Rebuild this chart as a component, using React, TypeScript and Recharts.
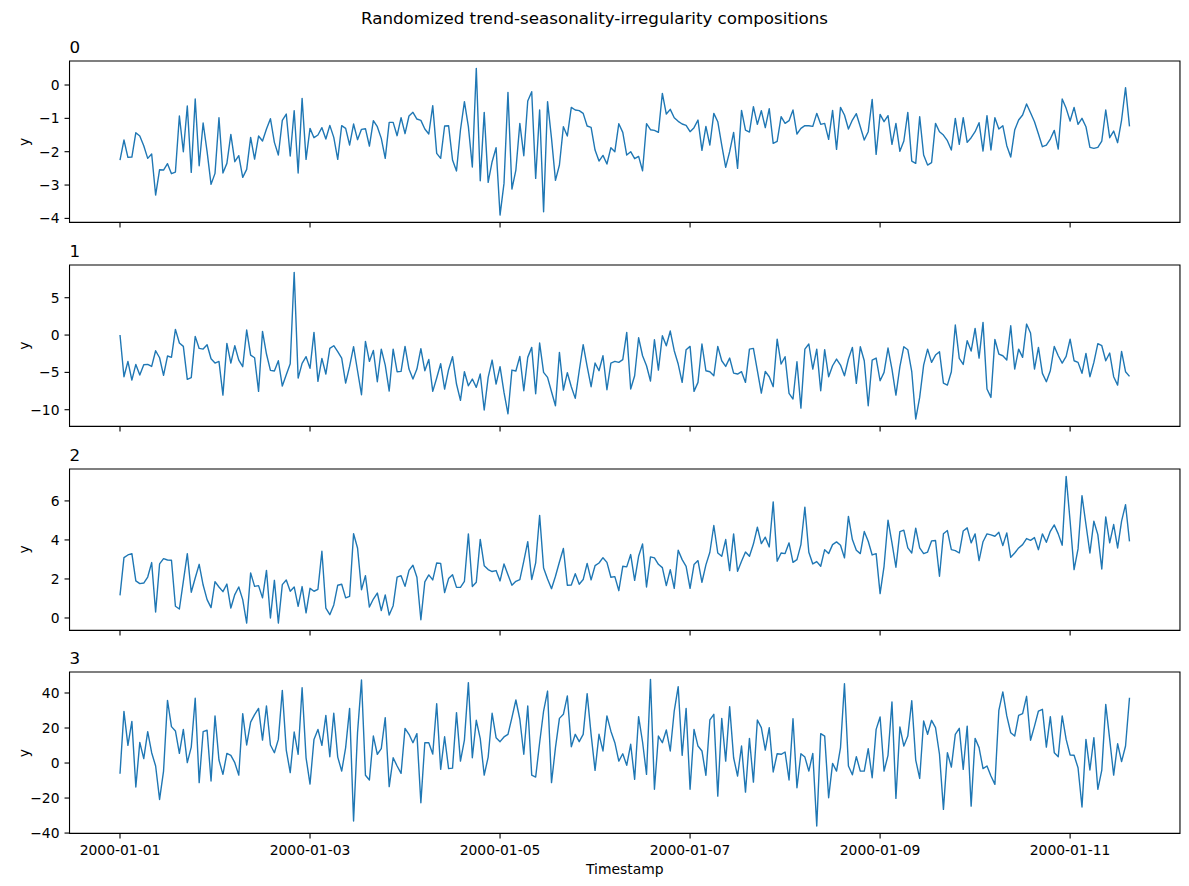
import { LineChart, Line, XAxis, YAxis, ReferenceArea } from "recharts";

// hourly values, 256 points per panel
const series0 = [
  -2.25, -1.65, -2.17, -2.16, -1.43, -1.53, -1.82, -2.2, -2.07, -3.3,
  -2.54, -2.55, -2.36, -2.66, -2.61, -0.93, -2.0, -0.63, -2.62, -0.42,
  -2.42, -1.14, -2.0, -2.98, -2.65, -0.98, -2.64, -2.35, -1.48, -2.3,
  -2.12, -2.77, -2.53, -1.57, -2.22, -1.53, -1.68, -1.32, -1.01, -1.72,
  -2.1, -1.06, -0.87, -2.13, -0.77, -2.64, -0.4, -2.23, -1.3, -1.58,
  -1.5, -1.28, -1.62, -1.21, -1.57, -2.23, -1.22, -1.3, -1.8, -1.17,
  -1.64, -1.33, -1.31, -1.83, -1.07, -1.25, -1.6, -2.2, -1.12, -1.12,
  -1.52, -0.98, -1.46, -0.93, -0.82, -1.02, -1.06, -1.32, -1.47, -0.62,
  -2.05, -2.2, -1.23, -1.22, -2.25, -2.58, -1.35, -0.5, -1.25, -2.46,
  0.5, -2.87, -0.82, -2.92, -2.3, -1.88, -3.9, -2.95, -0.22, -3.12,
  -2.55, -1.15, -2.12, -0.48, -0.2, -2.8, -0.75, -3.8, -0.5, -1.6,
  -2.86, -2.4, -1.25, -1.53, -0.67, -0.75, -0.77, -0.85, -1.23, -1.27,
  -1.95, -2.28, -2.11, -2.37, -1.88, -2.0, -1.16, -1.42, -2.1, -2.0,
  -2.21, -2.14, -2.57, -1.16, -1.34, -1.36, -1.42, -0.25, -0.87, -0.73,
  -0.98, -1.09, -1.17, -1.21, -1.4, -1.28, -1.05, -1.96, -1.24, -1.8,
  -0.85, -1.1, -1.8, -2.47, -2.0, -1.42, -2.5, -0.76, -1.35, -1.41,
  -0.65, -1.18, -0.77, -1.28, -0.71, -1.75, -1.69, -0.95, -1.15, -1.07,
  -0.75, -1.47, -1.3, -1.22, -1.22, -1.24, -0.85, -1.18, -1.15, -1.63,
  -0.76, -1.93, -0.67, -0.9, -1.32, -1.05, -0.86, -1.25, -1.65, -1.4,
  -0.43, -2.08, -0.88, -1.1, -0.92, -1.78, -1.15, -1.99, -1.68, -0.82,
  -2.28, -2.35, -0.95, -2.1, -2.4, -2.33, -1.15, -1.4, -1.5, -1.67,
  -1.95, -1.0, -1.78, -0.98, -1.72, -1.58, -1.4, -1.13, -1.98, -0.92,
  -1.95, -0.98, -1.32, -1.22, -1.82, -2.16, -1.35, -1.05, -0.9, -0.57,
  -0.83, -1.1, -1.47, -1.85, -1.8, -1.62, -1.36, -1.92, -0.42, -0.7,
  -1.08, -0.67, -1.18, -1.0, -1.25, -1.87, -1.9, -1.87, -1.68, -0.75,
  -1.58, -1.38, -1.73, -1.05, -0.08, -1.24,
];

const series1 = [
  0.0, -5.58, -3.53, -6.03, -3.93, -5.36, -3.97, -3.93, -4.2, -2.1,
  -3.04, -5.4, -2.81, -2.99, 0.76, -1.07, -1.52, -5.94, -5.71, -0.18,
  -1.79, -1.88, -1.29, -3.17, -3.75, -3.53, -8.04, -1.12, -3.75, -1.43,
  -3.35, -4.24, 0.67, -2.68, -3.04, -7.54, 0.49, -2.54, -4.73, -4.82,
  -3.44, -6.83, -5.31, -3.84, 8.4, -5.76, -3.79, -2.9, -4.46, 0.36,
  -6.2, -3.13, -5.22, -1.79, -1.43, -2.23, -3.08, -6.43, -4.2, -1.56,
  -4.78, -7.99, -0.85, -3.53, -2.05, -6.25, -1.88, -4.02, -7.5, -1.88,
  -4.91, -4.87, -1.52, -4.55, -5.89, -4.55, -1.83, -4.78, -3.26, -7.54,
  -5.76, -3.84, -7.23, -4.64, -2.9, -6.56, -8.75, -4.91, -6.79, -5.89,
  -7.01, -5.22, -10.04, -5.67, -3.35, -6.56, -4.24, -7.68, -10.54, -4.69,
  -4.82, -2.86, -7.46, -2.99, -1.65, -7.86, -1.07, -5.0, -5.67, -7.59,
  -9.46, -2.32, -7.37, -5.04, -6.92, -8.48, -4.78, -1.29, -4.2, -6.92,
  -3.75, -4.78, -2.77, -7.32, -3.75, -3.53, -3.66, -3.3, 0.36, -7.23,
  -5.45, -0.36, -2.77, -4.11, -6.16, -0.63, -4.69, -0.09, -1.43, 0.54,
  -2.1, -3.88, -6.34, -1.96, -1.52, -7.54, -6.34, -1.2, -4.78, -4.91,
  -5.45, -1.52, -3.44, -4.2, -3.08, -5.09, -5.22, -4.91, -6.34, -1.88,
  -1.79, -4.78, -7.77, -4.87, -5.58, -6.92, -0.54, -3.88, -2.9, -7.81,
  -8.57, -3.57, -9.78, -1.88, -1.2, -4.55, -1.88, -7.46, -1.96, -5.58,
  -4.11, -3.21, -4.02, -5.45, -3.21, -1.65, -6.47, -1.56, -3.44, -9.46,
  -3.35, -3.08, -6.12, -5.0, -1.74, -4.55, -8.04, -4.24, -1.56, -1.96,
  -4.91, -11.25, -8.35, -4.02, -1.88, -3.66, -2.68, -2.23, -6.43, -6.7,
  -4.91, 1.34, -3.13, -3.93, -0.76, -2.14, 0.89, -3.08, 1.7, -7.23,
  -8.35, -0.58, -2.54, -2.77, -3.35, 1.25, -4.55, -1.88, -2.99, 1.47,
  0.27, -4.55, -1.65, -5.13, -6.25, -4.78, -1.52, -2.77, -3.75, -2.86,
  -0.54, -3.44, -3.66, -5.13, -2.46, -5.58, -3.66, -1.16, -1.43, -3.44,
  -2.41, -5.58, -6.7, -2.19, -4.91, -5.54,
];

const series2 = [
  1.16, 3.09, 3.23, 3.3, 1.9, 1.76, 1.79, 2.1, 2.84, 0.31,
  2.77, 3.04, 2.97, 2.96, 0.6, 0.46, 1.88, 3.3, 1.32, 2.05,
  2.75, 1.69, 0.94, 0.53, 1.86, 1.59, 1.35, 1.74, 0.51, 1.2,
  1.59, 0.94, -0.26, 2.31, 1.62, 1.66, 1.03, 2.44, 0.0, 1.93,
  -0.26, 1.71, 1.95, 1.37, 1.59, 0.6, 1.61, 0.26, 1.52, 1.37,
  1.47, 3.42, 0.5, 0.17, 0.67, 1.68, 1.73, 1.03, 1.11, 4.32,
  3.59, 1.45, 2.17, 0.56, 0.97, 1.28, 0.38, 1.18, 0.15, 0.63,
  2.09, 2.17, 1.62, 2.44, 2.7, 2.09, -0.09, 1.85, 2.21, 1.95,
  2.82, 2.8, 1.3, 2.02, 2.22, 1.57, 1.57, 1.88, 4.31, 1.61,
  1.83, 4.03, 2.68, 2.48, 2.38, 2.43, 1.9, 2.77, 2.22, 1.68,
  1.88, 1.97, 2.91, 3.91, 1.97, 2.82, 5.26, 2.56, 2.0, 1.5,
  2.14, 2.87, 3.56, 1.68, 1.69, 2.27, 1.73, 1.97, 2.8, 1.95,
  2.68, 2.82, 3.09, 2.85, 2.09, 2.12, 1.4, 2.65, 2.62, 3.25,
  1.93, 3.16, 3.79, 1.59, 3.13, 3.08, 2.75, 2.58, 1.66, 2.48,
  1.52, 3.47, 2.99, 2.65, 1.52, 2.74, 2.94, 1.83, 2.72, 3.37,
  4.74, 3.33, 3.16, 4.02, 2.43, 4.31, 2.39, 2.91, 3.38, 3.16,
  3.79, 4.65, 3.81, 4.14, 3.64, 5.95, 2.91, 3.33, 3.3, 3.85,
  2.85, 2.99, 3.76, 5.68, 3.37, 2.77, 2.89, 2.65, 3.5, 3.3,
  3.76, 3.9, 3.73, 3.08, 5.21, 4.02, 3.47, 3.3, 4.43, 3.93,
  3.23, 3.3, 1.25, 2.65, 5.01, 3.85, 2.6, 4.43, 4.5, 3.59,
  3.33, 4.6, 3.59, 3.3, 3.38, 3.95, 3.97, 2.14, 4.32, 4.48,
  3.5, 3.45, 3.33, 4.46, 4.62, 3.85, 4.31, 2.94, 3.91, 4.31,
  4.26, 4.19, 4.39, 3.71, 4.36, 3.11, 3.33, 3.59, 3.76, 4.07,
  3.98, 4.12, 3.5, 4.31, 3.88, 4.44, 4.77, 4.31, 3.73, 7.26,
  4.96, 2.48, 3.54, 6.27, 4.79, 3.33, 4.96, 4.27, 2.51, 5.18,
  3.85, 4.79, 3.59, 4.96, 5.81, 3.93,
];

const series3 = [
  -6.1, 29.5, 10.1, 23.8, -13.7, 11.8, 2.5, 17.9, 5.9, -1.7,
  -20.8, -4.6, 35.8, 20.8, 18.3, 5.5, 19.2, 0.2, 9.1, 37.0,
  -11.2, 17.9, 18.7, -10.3, 26.9, 1.7, -6.5, 5.5, 4.4, 0.2,
  -6.9, 28.2, 10.3, 23.4, 27.6, 31.2, 13.1, 32.6, 10.3, 5.9,
  13.5, 41.5, 7.4, -5.5, 17.7, 5.0, 43.0, 3.0, -12.0, 13.5,
  19.2, 10.1, 27.2, 3.6, 28.4, 3.4, -4.6, 8.8, 31.2, -33.1,
  17.3, 47.4, -7.0, -9.7, 15.4, 5.0, 8.2, 25.9, -13.5, 3.0,
  -1.7, -5.9, 19.8, 16.4, 11.6, 16.8, -22.7, 11.6, 11.6, 5.1,
  33.9, -3.6, 15.0, -3.2, -2.9, 28.8, 1.1, 13.1, 45.9, 3.0,
  24.4, 13.9, -6.9, 3.4, 28.4, 14.5, 12.2, 14.9, 16.4, 25.9,
  36.0, 25.0, 5.0, 32.6, -6.9, -8.0, 11.6, 29.7, 41.1, -11.2,
  8.8, 25.5, 27.8, 38.3, 9.3, 16.4, 12.2, 16.4, 39.6, 16.4,
  -4.2, 16.4, 6.9, 26.9, 18.2, 11.6, 1.1, 5.3, -1.3, 10.7,
  -9.3, 26.5, 12.0, -6.5, 47.8, -15.0, 15.4, 11.6, 18.9, 6.9,
  29.7, 43.6, 4.4, 31.2, -15.0, 19.2, 9.7, 6.9, -7.0, 24.6,
  27.8, -18.9, 25.5, 1.1, 32.2, 3.0, -7.4, 9.7, -16.6, 14.1,
  -10.9, 24.6, 20.2, 7.4, 20.2, -5.1, 5.3, 5.0, 6.3, -9.7,
  25.3, -14.1, 5.3, 3.4, -4.6, 5.5, -36.0, 16.8, 15.4, -19.8,
  -0.2, -4.6, 8.8, 45.3, -1.7, -6.7, 3.6, -4.6, -4.6, 8.2,
  -8.4, 19.2, 26.3, -4.6, 4.4, 34.9, -20.2, 20.6, 9.7, 15.4,
  35.6, 1.7, -8.8, 24.0, 16.4, 24.4, 20.2, 5.0, -26.5, 5.9,
  -2.3, 16.4, 19.8, -3.6, 21.1, -24.6, 14.1, 8.8, -3.2, -1.7,
  -7.4, -12.2, 30.1, 40.6, 26.9, 17.3, 15.4, 27.2, 28.2, 38.1,
  13.0, 21.1, 29.7, 30.7, 9.1, 26.5, 5.9, 3.6, 26.9, 13.5,
  4.6, 4.4, -2.7, -25.1, 13.5, -4.0, 14.5, -15.0, -4.0, 33.5,
  13.5, -6.9, 11.0, 0.8, 9.7, 37.3,
];

// hours since 2000-01-01 00:00
const hours = series0.map((_, i) => i);

const xTicks = [0, 48, 96, 144, 192, 240];
const xTickLabels = [
  "2000-01-01",
  "2000-01-03",
  "2000-01-05",
  "2000-01-07",
  "2000-01-09",
  "2000-01-11",
];

const panelTitles = ["0", "1", "2", "3"];
const panelSeries = [series0, series1, series2, series3];
const yTicks0 = [-4, -3, -2, -1, 0];
const yTicks1 = [-10, -5, 0, 5];
const yTicks2 = [0, 2, 4, 6];
const yTicks3 = [-40, -20, 0, 20, 40];
const panelTicks = [yTicks0, yTicks1, yTicks2, yTicks3];

const FONT = "DejaVu Sans, sans-serif";
const BLUE = "#1f77b4";
const FIG_W = 1189;
const FIG_H = 886;
const AX_LEFT = 69.5;
const AX_RIGHT = 1180;
const AX_TOP = 61.3;
const AX_PITCH = 203.7;
const AX_H = 161.4;
const TOP_PAD = 30;

// matplotlib-style 5% margins
const X_DOMAIN: [number, number] = [-12.75, 267.75];

function paddedDomain(values: number[]): [number, number] {
  const lo = Math.min(...values);
  const hi = Math.max(...values);
  const pad = (hi - lo) * 0.05;
  return [lo - pad, hi + pad];
}

const withMinus = (v: number) => String(v).replace("-", "\u2212");

const tickStyle = { fontSize: 13.9, fill: "#000", fontFamily: FONT };
const tickLineStyle = { stroke: "#000", strokeWidth: 1.1 };

function Panel({ index }: { index: number }) {
  const values = panelSeries[index];
  const isLast = index === panelSeries.length - 1;
  const bottom = isLast ? 30 : 8;
  const data = values.map((v, i) => ({ hour: hours[i], value: v }));
  const [y0, y1] = paddedDomain(values);
  const top = AX_TOP + index * AX_PITCH - TOP_PAD;

  return (
    <div style={{ position: "absolute", left: 0, top }}>
      <LineChart
        width={FIG_W}
        height={TOP_PAD + AX_H + bottom}
        data={data}
        margin={{ top: TOP_PAD, right: FIG_W - AX_RIGHT, bottom: 0, left: 0 }}
      >
        <XAxis
          dataKey="hour"
          type="number"
          domain={X_DOMAIN}
          ticks={xTicks}
          interval={0}
          allowDataOverflow
          height={bottom}
          axisLine={false}
          tickLine={tickLineStyle}
          tickSize={5}
          tickMargin={7}
          tick={tickStyle}
          tickFormatter={(h: number) =>
            isLast ? xTickLabels[xTicks.indexOf(h)] : ""
          }
        />
        <YAxis
          type="number"
          domain={[y0, y1]}
          ticks={panelTicks[index]}
          interval={0}
          allowDataOverflow
          width={AX_LEFT}
          axisLine={false}
          tickLine={tickLineStyle}
          tickSize={5}
          tickMargin={5}
          tick={tickStyle}
          tickFormatter={withMinus}
        />
        <Line
          dataKey="value"
          stroke={BLUE}
          strokeWidth={1.4}
          strokeLinejoin="round"
          dot={false}
          isAnimationActive={false}
        />
        <ReferenceArea
          x1={X_DOMAIN[0]}
          x2={X_DOMAIN[1]}
          y1={y0}
          y2={y1}
          fill="none"
          stroke="#000"
          strokeWidth={1.1}
          ifOverflow="visible"
        />
      </LineChart>
    </div>
  );
}

export default function App() {
  return (
    <div
      style={{
        position: "absolute",
        left: 0,
        top: 0,
        width: FIG_W,
        height: FIG_H,
        background: "#fff",
        fontFamily: FONT,
      }}
    >
      {panelTitles.map((_, i) => (
        <Panel key={i} index={i} />
      ))}
      <svg
        width={FIG_W}
        height={FIG_H}
        style={{ position: "absolute", left: 0, top: 0, pointerEvents: "none" }}
        fontFamily={FONT}
      >
        <text x={FIG_W / 2} y={24} textAnchor="middle" fontSize={16.7}>
          Randomized trend-seasonality-irregularity compositions
        </text>
        {panelTitles.map((t, i) => {
          const top = AX_TOP + i * AX_PITCH;
          return (
            <g key={t}>
              <text x={AX_LEFT} y={top - 8} fontSize={16.7}>
                {t}
              </text>
              <text
                transform={`translate(28.5, ${top + AX_H / 2}) rotate(-90)`}
                textAnchor="middle"
                fontSize={13.9}
              >
                y
              </text>
            </g>
          );
        })}
        <text
          x={(AX_LEFT + AX_RIGHT) / 2}
          y={873.5}
          textAnchor="middle"
          fontSize={13.9}
        >
          Timestamp
        </text>
      </svg>
    </div>
  );
}
